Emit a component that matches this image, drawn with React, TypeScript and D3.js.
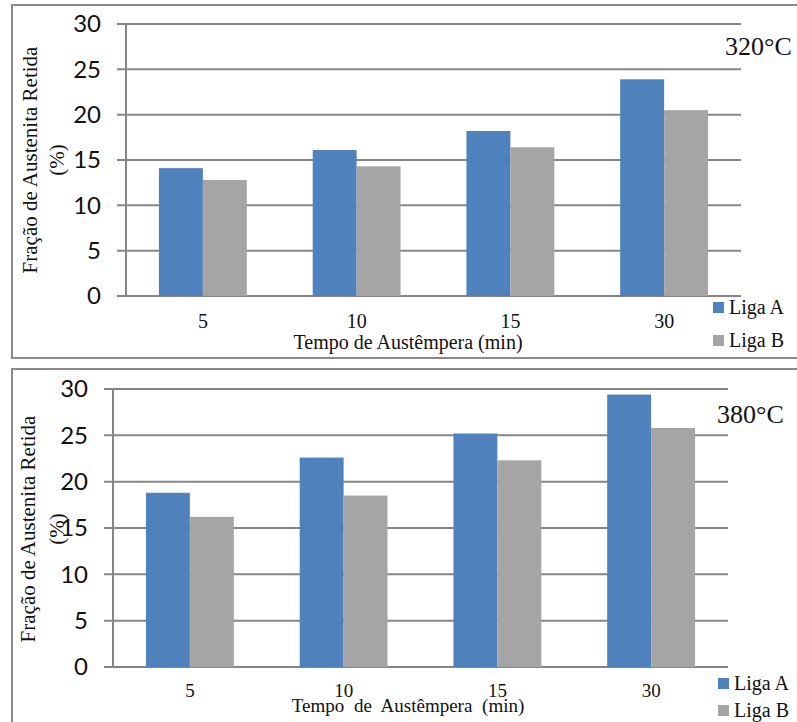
import { useEffect, useRef } from 'react';
import * as d3 from 'd3';

const times = ['5', '10', '15', '30'];
const series = ['Liga A', 'Liga B'];
const ligaA320 = [14.1, 16.1, 18.2, 23.9];
const ligaB320 = [12.8, 14.3, 16.4, 20.5];
const ligaA380 = [18.8, 22.6, 25.2, 29.4];
const ligaB380 = [16.2, 18.5, 22.3, 25.8];
const yTicks = [0, 5, 10, 15, 20, 25, 30];

const colors = ['#4F81BD', '#A5A5A5'];
const serif = '"Liberation Serif", "Times New Roman", serif';
const sans = 'Lato, "Open Sans", sans-serif';

interface Panel {
  top: number;
  axisX: number;
  axisRight: number;
  y0: number;
  y30: number;
  a: number[];
  b: number[];
  label: string;
  labelPos: [number, number];
  tickLabelRight: number;
  xTickY: number;
  xTickFont: number;
  xTitle: [number, number, number, number];
  yTitle: [number, number];
  pctX: number;
  legendX: number;
  legendY: [number, number];
}

const panels: Panel[] = [
  {
    top: 5, axisX: 126, axisRight: 741, y0: 296, y30: 24,
    a: ligaA320, b: ligaB320, label: '320°C', labelPos: [725, 55],
    tickLabelRight: 101, xTickY: 328, xTickFont: 20,
    xTitle: [408, 349, 20, 0], yTitle: [37, 160], pctX: 64,
    legendX: 713, legendY: [302, 335],
  },
  {
    top: 369, axisX: 113, axisRight: 728, y0: 667, y30: 389,
    a: ligaA380, b: ligaB380, label: '380°C', labelPos: [717, 423],
    tickLabelRight: 88, xTickY: 697, xTickFont: 19,
    xTitle: [408, 712, 19, 5], yTitle: [35, 529], pctX: 64,
    legendX: 718, legendY: [678, 705],
  },
];

export default function App() {
  const svgRef = useRef<SVGSVGElement>(null);

  useEffect(() => {
    if (!svgRef.current) return;
    const svg = d3.select(svgRef.current);
    svg.selectAll('*').remove();

    panels.forEach((p, pi) => {
      const g = svg.append('g');

      // Panel frame
      g.append('rect')
        .attr('x', 12).attr('y', p.top)
        .attr('width', 800).attr('height', pi === 0 ? 353 : 400)
        .attr('fill', 'white')
        .attr('stroke', '#8a8a8a').attr('stroke-width', 2);

      const x = d3.scaleBand<string>()
        .domain(times)
        .range([p.axisX, p.axisRight])
        .paddingInner(0)
        .paddingOuter(0);

      const inner = d3.scaleBand<string>()
        .domain(series)
        .range([0, x.bandwidth()])
        .paddingInner(0)
        .paddingOuter(0.75);

      const y = d3.scaleLinear().domain([0, 30]).range([p.y0, p.y30]);

      // Gridlines
      g.selectAll('.grid')
        .data(yTicks)
        .join('line')
        .attr('x1', p.axisX - 9).attr('x2', p.axisRight)
        .attr('y1', d => y(d)).attr('y2', d => y(d))
        .attr('stroke', '#868686').attr('stroke-width', 2);

      // Y axis line
      g.append('line')
        .attr('x1', p.axisX).attr('x2', p.axisX)
        .attr('y1', p.y30).attr('y2', p.y0)
        .attr('stroke', '#868686').attr('stroke-width', 2);

      // Bars
      const vals = [p.a, p.b];
      series.forEach((s, si) => {
        g.selectAll(`.bar${si}`)
          .data(times.map((t, i) => ({ t, v: vals[si][i] })))
          .join('rect')
          .attr('x', d => (x(d.t) || 0) + (inner(s) || 0))
          .attr('y', d => y(d.v))
          .attr('width', inner.bandwidth())
          .attr('height', d => p.y0 - y(d.v))
          .attr('fill', colors[si]);
      });

      // Y tick labels
      g.selectAll('.ytl')
        .data(yTicks)
        .join('text')
        .attr('x', p.tickLabelRight).attr('y', d => y(d))
        .attr('dy', '0.35em')
        .attr('text-anchor', 'end')
        .attr('font-family', sans).attr('font-size', 24)
        .attr('fill', '#111')
        .text(d => d);

      // X tick labels
      g.selectAll('.xtl')
        .data(times)
        .join('text')
        .attr('x', d => (x(d) || 0) + x.bandwidth() / 2)
        .attr('y', p.xTickY)
        .attr('text-anchor', 'middle')
        .attr('font-family', serif).attr('font-size', p.xTickFont)
        .attr('fill', '#111')
        .text(d => d);

      // X title
      g.append('text')
        .attr('x', p.xTitle[0]).attr('y', p.xTitle[1])
        .attr('text-anchor', 'middle')
        .attr('font-family', serif).attr('font-size', p.xTitle[2])
        .attr('word-spacing', p.xTitle[3])
        .attr('fill', '#111')
        .text('Tempo de Austêmpera (min)');

      // Y title
      g.append('text')
        .attr('transform', `translate(${p.yTitle[0]},${p.yTitle[1]}) rotate(-90)`)
        .attr('text-anchor', 'middle')
        .attr('font-family', serif).attr('font-size', 21)
        .attr('fill', '#111')
        .text('Fração de Austenita Retida');
      g.append('text')
        .attr('transform', `translate(${p.pctX},${p.yTitle[1]}) rotate(-90)`)
        .attr('text-anchor', 'middle')
        .attr('font-family', serif).attr('font-size', 21)
        .attr('fill', '#111')
        .text('(%)');

      // Temperature label
      g.append('text')
        .attr('x', p.labelPos[0]).attr('y', p.labelPos[1])
        .attr('font-family', serif).attr('font-size', 26)
        .attr('fill', '#111')
        .text(p.label);

      // Legend
      series.forEach((s, si) => {
        g.append('rect')
          .attr('x', p.legendX).attr('y', p.legendY[si])
          .attr('width', 11).attr('height', 11)
          .attr('fill', colors[si]);
        g.append('text')
          .attr('x', p.legendX + 16).attr('y', p.legendY[si] + 12)
          .attr('font-family', serif).attr('font-size', 20)
          .attr('fill', '#111')
          .text(s);
      });
    });
  }, []);

  return (
    <svg
      ref={svgRef}
      width={797}
      height={722}
      style={{ position: 'absolute', left: 0, top: 0, display: 'block', background: 'white' }}
    />
  );
}
